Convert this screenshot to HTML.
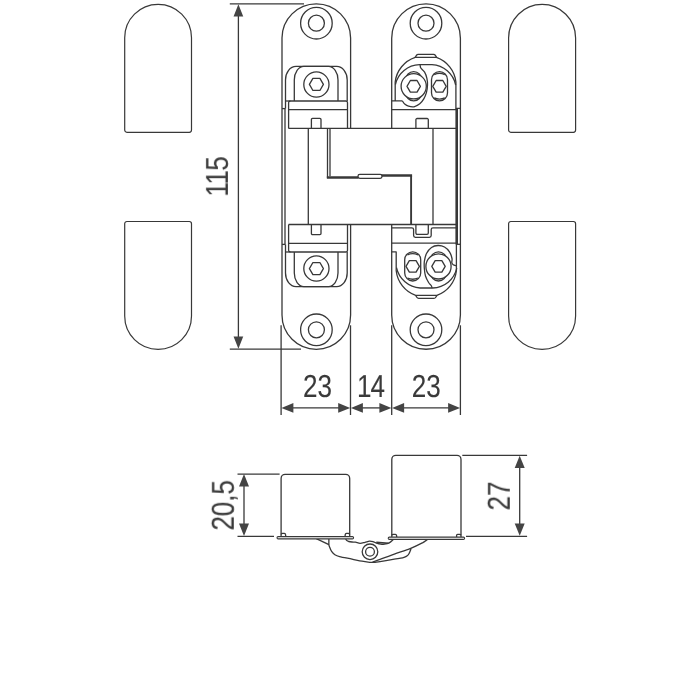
<!DOCTYPE html>
<html lang="en">
<head>
<meta charset="utf-8">
<title>Hinge drawing</title>
<style>
html,body{margin:0;padding:0;background:#fff;}
body{width:700px;height:700px;overflow:hidden;}
svg{display:block;}
text{text-rendering:geometricPrecision;}
.tx{opacity:.999;stroke:#3a3a3a;stroke-width:.1px;}
.ln{fill:none;stroke:#383838;stroke-width:1.3;stroke-linejoin:round;stroke-linecap:butt;}
.dim{fill:none;stroke:#383838;stroke-width:1.3;}
.ar{fill:#444;stroke:none;}
.tx{font-family:"Liberation Sans",sans-serif;font-size:31.8px;fill:#3a3a3a;}
</style>
</head>
<body>
<svg width="700" height="700" viewBox="0 0 700 700">
<rect width="700" height="700" fill="#fff"/>
<g class="ln" style="stroke-width:1.2">
<path d="M124.70,37.80 A33.40,33.40 0 0 1 191.50,37.80 V130.10 a2.20,2.20 0 0 1 -2.20,2.20 H126.90 a2.20,2.20 0 0 1 -2.20,-2.20 Z"/>
<path d="M124.70,316.00 A33.40,33.40 0 0 0 191.50,316.00 V223.70 a2.20,2.20 0 0 0 -2.20,-2.20 H126.90 a2.20,2.20 0 0 0 -2.20,2.20 Z"/>
<path d="M508.60,37.90 A33.50,33.50 0 0 1 575.60,37.90 V130.10 a2.20,2.20 0 0 1 -2.20,2.20 H510.80 a2.20,2.20 0 0 1 -2.20,-2.20 Z"/>
<path d="M508.60,315.90 A33.50,33.50 0 0 0 575.60,315.90 V223.70 a2.20,2.20 0 0 0 -2.20,-2.20 H510.80 a2.20,2.20 0 0 0 -2.20,2.20 Z"/>
</g>
<g class="ln">
<path d="M350.60,128.4 V38.10 A34.30,34.30 0 0 0 282.00,38.10 V315.00 A34.30,34.30 0 0 0 350.60,315.00 V224.5"/>
<circle cx="316.4" cy="23.20" r="15.8"/>
<circle cx="316.4" cy="23.20" r="8"/>
<circle cx="316.4" cy="329.80" r="15.8"/>
<circle cx="316.4" cy="329.80" r="8"/>
<path d="M285.5,108.6 V79.9 a10.5,13.5 0 0 1 10.5,-13.5 H336.7 a10.5,13.5 0 0 1 10.5,13.5 V101"/>
<path d="M294.3,101 V79.9 a9.5,13.5 0 0 1 9.5,-13.5 H328.5 a9.5,13.5 0 0 1 9.5,13.5 V101"/>
<circle cx="316.4" cy="84.5" r="12.6"/>
<polygon points="323.40,84.40 319.90,90.46 312.90,90.46 309.40,84.40 312.90,78.34 319.90,78.34"/>
<path d="M288.6,128.4 V102.8 a1.8,1.8 0 0 1 1.8,-1.8 H345.7 a1.8,1.8 0 0 1 1.8,1.8 V128.4"/>
<path d="M285.5,101 H290.4"/>
<path d="M288.6,109.6 H347.5"/>
<path d="M311.4,128.4 V119.5 a1.1,1.1 0 0 1 1.1,-1.1 H319.9 a1.1,1.1 0 0 1 1.1,1.1 V128.4"/>
<path d="M282,108.6 H285.5"/>
<g transform="translate(0 353.00) scale(1 -1)">
<path d="M285.5,108.6 V79.9 a10.5,13.5 0 0 1 10.5,-13.5 H336.7 a10.5,13.5 0 0 1 10.5,13.5 V101"/>
<path d="M294.3,101 V79.9 a9.5,13.5 0 0 1 9.5,-13.5 H328.5 a9.5,13.5 0 0 1 9.5,13.5 V101"/>
<circle cx="316.4" cy="84.5" r="12.6"/>
<polygon points="323.40,84.40 319.90,90.46 312.90,90.46 309.40,84.40 312.90,78.34 319.90,78.34"/>
<path d="M288.6,128.4 V102.8 a1.8,1.8 0 0 1 1.8,-1.8 H345.7 a1.8,1.8 0 0 1 1.8,1.8 V128.4"/>
<path d="M285.5,101 H290.4"/>
<path d="M288.6,109.6 H347.5"/>
<path d="M311.4,128.4 V119.5 a1.1,1.1 0 0 1 1.1,-1.1 H319.9 a1.1,1.1 0 0 1 1.1,1.1 V128.4"/>
<path d="M282,108.6 H285.5"/>
</g>
<path d="M285,108.6 V244.3"/>
<path d="M288.6,128.4 H456"/>
<path d="M288.6,224.5 H456"/>
<path d="M308.3,128.4 V224.5"/>
<path d="M433,128.4 V224.5"/>
<path d="M327.5,128.4 V178.1"/>
<path d="M330,128.4 V176.3"/>
<path d="M326.85,177.4 H358.5" stroke-width="2.5"/>
<path d="M381.5,175.5 H412.1" stroke-width="2.5"/>
<path d="M411.1,175.5 V224.4" stroke-width="1.9"/>
<rect x="358" y="174.4" width="24" height="4" rx="1.8" fill="#fff"/>
<path d="M391.70,128.4 V38.15 A34.35,34.35 0 0 1 460.40,38.15 V314.95 A34.35,34.35 0 0 1 391.70,314.95 V224.5"/>
<circle cx="426" cy="23.20" r="15.8"/>
<circle cx="426" cy="23.20" r="8"/>
<circle cx="426" cy="329.80" r="15.8"/>
<circle cx="426" cy="329.80" r="8"/>
<path d="M415.2,57.4 L416.6,55.2 Q417.1,54.4 418.2,54.4 H433.6 Q434.7,54.4 435.2,55.2 L436.6,57.4"/>
<path d="M395.4,84.5 A25.3,25.3 0 0 1 419.5,64.7 H432 A25.8,25.8 0 0 1 455.7,85"/>
<rect x="405.7" y="71.7" width="16" height="29.2" rx="8"/>
<circle cx="413.7" cy="86.3" r="12.6" fill="#fff"/>
<polygon points="420.40,86.30 417.05,92.10 410.35,92.10 407.00,86.30 410.35,80.50 417.05,80.50"/>
<rect x="431.5" y="71.7" width="16" height="29.2" rx="8"/>
<path d="M434.2,74.7 A12.6,12.6 0 0 1 444.8,74.7"/>
<path d="M434.2,97.9 A12.6,12.6 0 0 0 444.8,97.9"/>
<polygon points="446.20,86.30 442.85,92.10 436.15,92.10 432.80,86.30 436.15,80.50 442.85,80.50"/>
<path d="M395.2,100.9 V82 A29.5,29.5 0 0 1 415.2,57.4 H436.4 A29.5,29.5 0 0 1 455.9,82 V108.4 H460.4"/>
<path d="M420.10,64.80 C420.22,65.33 420.05,66.78 420.80,68.00 C421.55,69.22 423.58,70.38 424.60,72.10 C425.62,73.82 426.42,76.15 426.90,78.30 C427.38,80.45 427.58,82.60 427.50,85.00 C427.42,87.40 427.02,90.38 426.40,92.70 C425.78,95.02 424.90,97.05 423.80,98.90 C422.70,100.75 421.43,102.48 419.80,103.80 C418.17,105.12 415.88,106.40 414.00,106.80 C412.12,107.20 410.05,106.67 408.50,106.20 C406.95,105.73 405.68,104.80 404.70,104.00 C403.72,103.20 403.12,101.92 402.60,101.40 C402.08,100.88 401.77,100.98 401.60,100.90 H391.7"/>
<path d="M391.7,109.7 H456"/>
<path d="M415.9,128.4 V119.7 a1.2,1.2 0 0 1 1.2,-1.2 H427.1 a1.2,1.2 0 0 1 1.2,1.2 V128.4"/>
<path d="M456.7,108.4 V244.4" stroke-width="2.6"/>
<g transform="rotate(180 426.1 176.35)">
<path d="M415.2,57.4 L416.6,55.2 Q417.1,54.4 418.2,54.4 H433.6 Q434.7,54.4 435.2,55.2 L436.6,57.4"/>
<path d="M395.4,84.5 A25.3,25.3 0 0 1 419.5,64.7 H432 A25.8,25.8 0 0 1 455.7,85"/>
<rect x="405.7" y="71.7" width="16" height="29.2" rx="8"/>
<circle cx="413.7" cy="86.3" r="12.6" fill="#fff"/>
<polygon points="420.40,86.30 417.05,92.10 410.35,92.10 407.00,86.30 410.35,80.50 417.05,80.50"/>
<rect x="431.5" y="71.7" width="16" height="29.2" rx="8"/>
<path d="M434.2,74.7 A12.6,12.6 0 0 1 444.8,74.7"/>
<path d="M434.2,97.9 A12.6,12.6 0 0 0 444.8,97.9"/>
<polygon points="446.20,86.30 442.85,92.10 436.15,92.10 432.80,86.30 436.15,80.50 442.85,80.50"/>
</g>
<path d="M391.7,251.9 H396.2 V270.7 A29.5,29.5 0 0 0 415.7,295.3 H436.9 A29.5,29.5 0 0 0 456.4,270.7 V244"/>
<path d="M432.10,287.90 C431.95,287.50 431.78,286.40 431.20,285.50 C430.62,284.60 429.55,284.08 428.60,282.50 C427.65,280.92 426.22,278.42 425.50,276.00 C424.78,273.58 424.48,270.47 424.30,268.00 C424.12,265.53 424.03,263.62 424.40,261.20 C424.77,258.78 425.32,255.78 426.50,253.50 C427.68,251.22 429.58,248.83 431.50,247.50 C433.42,246.17 435.83,245.58 438.00,245.50 C440.17,245.42 442.58,245.95 444.50,247.00 C446.42,248.05 448.25,249.88 449.50,251.80 C450.75,253.72 451.62,256.72 452.00,258.50 C452.38,260.28 451.60,261.45 451.80,262.50 C452.00,263.55 452.45,264.27 453.20,264.80 C453.95,265.33 455.78,265.55 456.30,265.70"/>
<path d="M391.7,243.2 H456"/>
<path d="M456.4,244.3 H460.4"/>
<path d="M391.6,227.8 H411.8 Q413.6,227.8 413.6,229.6 V235.6 Q413.6,237.4 415.4,237.4 H429.4 Q431.2,237.4 431.2,235.6 V229.6 Q431.2,227.8 433,227.8 H457.2"/>
<path d="M415.9,224.5 V233 a1.3,1.3 0 0 0 1.3,1.3 H427 a1.3,1.3 0 0 0 1.3,-1.3 V224.5"/>
</g>
<g class="dim">
<path d="M229.8,3.8 H304"/>
<path d="M229.8,349.2 H301"/>
<path d="M238.4,10 V343"/>
<path d="M281.1,325.3 V415"/>
<path d="M350.5,325.3 V415"/>
<path d="M391.7,325.3 V415"/>
<path d="M460.4,325.3 V415"/>
<path d="M286,407.9 H345"/>
<path d="M356,407.9 H386"/>
<path d="M397,407.9 H455"/>
</g>
<g class="ar">
<polygon points="238.40,4.20 233.55,16.50 243.25,16.50"/>
<polygon points="238.40,348.80 233.55,336.40 243.25,336.40"/>
<polygon points="281.40,407.90 293.40,403.05 293.40,412.75"/>
<polygon points="350.20,407.90 338.20,403.05 338.20,412.75"/>
<polygon points="350.90,407.90 362.90,403.05 362.90,412.75"/>
<polygon points="391.40,407.90 379.40,403.05 379.40,412.75"/>
<polygon points="392.10,407.90 404.10,403.05 404.10,412.75"/>
<polygon points="460.10,407.90 448.10,403.05 448.10,412.75"/>
</g>
<g class="ln">
<path d="M316.3,538.6 L328.9,544.6"/>
<path d="M328.90,538.60 C328.90,539.60 328.77,543.17 328.90,544.60 C329.03,546.03 329.25,546.07 329.70,547.20 C330.15,548.33 330.73,550.15 331.60,551.40 C332.47,552.65 333.57,553.83 334.90,554.70 C336.23,555.57 336.75,555.87 339.60,556.60 C342.45,557.33 348.27,558.33 352.00,559.10 C355.73,559.87 359.07,560.65 362.00,561.20 C364.93,561.75 367.43,562.22 369.60,562.40 C371.77,562.58 373.27,562.43 375.00,562.30 C376.73,562.17 376.78,562.12 380.00,561.60 C383.22,561.08 390.53,559.83 394.30,559.20 C398.07,558.57 400.60,558.27 402.60,557.80 C404.60,557.33 405.27,557.03 406.30,556.40 C407.33,555.77 408.00,555.30 408.80,554.00 C409.60,552.70 410.72,549.50 411.10,548.60"/>
<path d="M372.50,562.30 C373.75,561.82 376.37,560.77 380.00,559.40 C383.63,558.03 389.18,555.93 394.30,554.10 C399.42,552.27 405.93,550.32 410.70,548.40 C415.47,546.48 420.32,543.93 422.90,542.60 C425.48,541.27 425.42,540.93 426.20,540.40 C426.98,539.87 427.37,539.57 427.60,539.40"/>
<path d="M345.70,538.90 C345.88,539.18 346.28,540.17 346.80,540.60 C347.32,541.03 347.93,541.27 348.80,541.50 C349.67,541.73 350.88,541.88 352.00,542.00 C353.12,542.12 354.15,541.98 355.50,542.20 C356.85,542.42 358.52,543.28 360.10,543.30 C361.68,543.32 363.42,542.67 365.00,542.30 C366.58,541.93 368.18,541.18 369.60,541.10 C371.02,541.02 372.33,541.47 373.50,541.80 C374.67,542.13 375.40,542.72 376.60,543.10 C377.80,543.48 379.38,543.92 380.70,544.10 C382.02,544.28 383.07,544.42 384.50,544.20 C385.93,543.98 387.83,543.57 389.30,542.80 C390.77,542.03 392.63,540.13 393.30,539.60"/>
<path d="M376.3,542.4 L388.5,543.2" stroke-width="1.6"/>
<circle cx="370" cy="551.8" r="7.8" fill="#fff"/>
<circle cx="370" cy="551.8" r="4.4"/>
<path d="M281.1,536.6 V478.4 a4,4 0 0 1 4,-4 H345.7 a4,4 0 0 1 4,4 V536.6"/>
<path d="M281.1,534.4 Q281.3,533.4 282.4,533.4 H284.4 Q285.4,533.4 285.5,534.4 L285.8,536.6"/>
<path d="M349.7,534.4 Q349.4,533.4 348.2,533.4 H346.4 Q345.4,533.4 345.3,534.4 L345,536.6"/>
<rect x="277" y="536.6" width="76.6" height="2.3" rx="1.15" fill="#fff" stroke-width="1.05"/>
<path d="M391.8,537.1 V459.4 a4,4 0 0 1 4,-4 H457 a4,4 0 0 1 4,4 V537.1"/>
<path d="M391.8,535.3 Q392.1,534.3 393.3,534.3 H395.4 Q396.4,534.3 396.5,535.3 L396.8,537.1"/>
<path d="M461,535.3 Q460.7,534.3 459.5,534.3 H457.6 Q456.6,534.3 456.6,535.3 V537.1"/>
<rect x="388.2" y="537.1" width="76.4" height="2.3" rx="1.15" fill="#fff" stroke-width="1.05"/>
</g>
<g class="dim">
<path d="M237.5,474.2 H279.6"/>
<path d="M237.5,536.4 H274"/>
<path d="M244,480 V530"/>
<path d="M462.3,455.4 H527.1"/>
<path d="M466,536.4 H527.1"/>
<path d="M519.7,461 V530"/>
</g>
<g class="ar">
<polygon points="244.00,474.10 239.00,486.40 249.00,486.40"/>
<polygon points="244.00,535.90 239.00,523.60 249.00,523.60"/>
<polygon points="519.70,455.70 514.70,468.00 524.70,468.00"/>
<polygon points="519.70,535.80 514.70,523.50 524.70,523.50"/>
</g>
<g class="tx">
<text transform="translate(227.90 189.00) rotate(-90) scale(0.820 1)" x="-9.28 5.36 22.29">115</text>
<text transform="translate(310.35 397.40) scale(0.820 1)" x="-8.84 8.87">23</text>
<text transform="translate(364.70 397.40) scale(0.820 1)" x="-9.28 7.17">14</text>
<text transform="translate(418.95 397.40) scale(0.820 1)" x="-8.84 8.87">23</text>
<text transform="translate(233.80 523.40) rotate(-90) scale(0.820 1)" x="-8.84 8.84 26.44 35.09">20,5</text>
<text transform="translate(509.80 503.35) rotate(-90) scale(0.820 1)" x="-8.84 8.88">27</text>
</g>
</svg>
</body>
</html>
